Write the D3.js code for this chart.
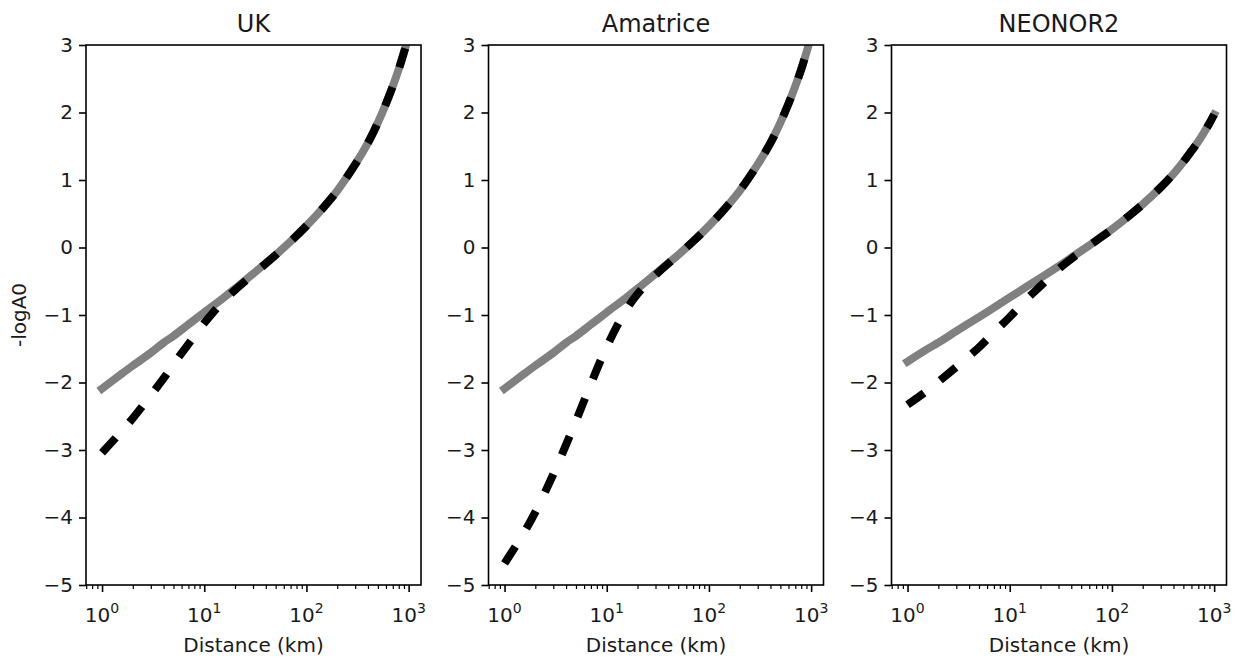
<!DOCTYPE html>
<html>
<head>
<meta charset="utf-8">
<script src="https://cdn.jsdelivr.net/npm/d3@7"></script>
<style>
  body { margin: 0; background: #fff; }
  svg { display: block; font-family: "DejaVu Sans", sans-serif; }
</style>
</head>
<body>
<svg id="chart" width="1238" height="662"></svg>
<script>
// ---- Data ----
const panelTitles = ["UK", "Amatrice", "NEONOR2"];
const distance = [1, 1.5, 2, 3, 4, 5, 7, 10, 15, 20, 30, 50, 70, 100, 150, 200, 300, 400, 500, 600, 700, 800, 900, 1000];

const ukSolid       = [-2.09, -1.89, -1.75, -1.56, -1.41, -1.31, -1.14, -0.96, -0.76, -0.61, -0.39, -0.11, 0.09, 0.32, 0.61, 0.84, 1.23, 1.55, 1.85, 2.13, 2.39, 2.64, 2.89, 3.13];
const ukDashed      = [-3.04, -2.75, -2.53, -2.19, -1.94, -1.73, -1.43, -1.12, -0.81, -0.63, -0.40, -0.11, 0.09, 0.32, 0.61, 0.84, 1.23, 1.55, 1.85, 2.13, 2.39, 2.64, 2.89, 3.13];
const amatriceSolid = [-2.09, -1.89, -1.75, -1.56, -1.41, -1.31, -1.14, -0.96, -0.76, -0.61, -0.39, -0.11, 0.09, 0.32, 0.61, 0.84, 1.23, 1.55, 1.85, 2.13, 2.39, 2.64, 2.89, 3.13];
const amatriceDashed= [-4.68, -4.26, -3.92, -3.36, -2.92, -2.57, -2.02, -1.47, -0.96, -0.69, -0.41, -0.11, 0.09, 0.32, 0.61, 0.84, 1.23, 1.55, 1.85, 2.13, 2.39, 2.64, 2.89, 3.13];
const neonorSolid   = [-1.69, -1.52, -1.41, -1.24, -1.12, -1.03, -0.89, -0.74, -0.57, -0.45, -0.28, -0.05, 0.10, 0.27, 0.48, 0.64, 0.89, 1.09, 1.27, 1.43, 1.57, 1.71, 1.84, 1.97];
const neonorDashed  = [-2.33, -2.14, -1.99, -1.77, -1.61, -1.48, -1.26, -1.03, -0.75, -0.57, -0.32, -0.06, 0.10, 0.27, 0.48, 0.64, 0.89, 1.09, 1.27, 1.43, 1.57, 1.71, 1.84, 1.97];

const solidSeries = [ukSolid, amatriceSolid, neonorSolid];
const dashedSeries = [ukDashed, amatriceDashed, neonorDashed];

const yTicks = [-5, -4, -3, -2, -1, 0, 1, 2, 3];
const xMajorTicks = [1, 10, 100, 1000];
const xMajorExponents = ["0", "1", "2", "3"];
const xLabel = "Distance (km)";
const yLabel = "-logA0";

// ---- Layout ----
const svg = d3.select("#chart");
const plotTop = 45, plotH = 540, plotW = 335;
const lefts = [86, 488.5, 891.5];
const textColor = "#1a1a1a";

const x = d3.scaleLog().domain([Math.pow(10, -0.157), Math.pow(10, 3.121)]).range([0, plotW]);
const y = d3.scaleLinear().domain([-5, 3]).range([plotH, 0]);

// minor ticks
const minorTicks = [];
[0.1, 1, 10, 100, 1000].forEach(dec => {
  for (let k = 2; k <= 9; k++) {
    const v = dec * k;
    if (v >= x.domain()[0] && v <= x.domain()[1]) minorTicks.push(v);
  }
});

const line = d3.line()
  .x(d => x(d[0]))
  .y(d => y(d[1]))
  .curve(d3.curveCatmullRom.alpha(0.5));

lefts.forEach((left, i) => {
  const g = svg.append("g").attr("transform", `translate(${left},${plotTop})`);

  g.append("clipPath").attr("id", "clip" + i)
    .append("rect").attr("x", 0).attr("y", 0).attr("width", plotW).attr("height", plotH);

  const plot = g.append("g").attr("clip-path", `url(#clip${i})`);

  plot.append("path")
    .datum(distance.map((d, j) => [d, solidSeries[i][j]]))
    .attr("d", line)
    .attr("fill", "none")
    .attr("stroke", "#808080")
    .attr("stroke-width", 8)
    .attr("stroke-linecap", "square");

  plot.append("path")
    .datum(distance.map((d, j) => [d, dashedSeries[i][j]]))
    .attr("d", line)
    .attr("fill", "none")
    .attr("stroke", "#000")
    .attr("stroke-width", 8)
    .attr("stroke-dasharray", "20,21")
    .attr("stroke-linecap", "butt");

  // Y axis
  const yAxis = g.append("g")
    .call(d3.axisLeft(y).tickValues(yTicks).tickSize(7).tickPadding(6));
  yAxis.select(".domain").remove();
  yAxis.selectAll(".tick line").attr("stroke", "#000").attr("stroke-width", 1.6);
  yAxis.selectAll(".tick text")
    .attr("font-size", 20).attr("fill", textColor)
    .attr("font-family", "DejaVu Sans, sans-serif");

  // X axis minor
  const xMinor = g.append("g").attr("transform", `translate(0,${plotH})`)
    .call(d3.axisBottom(x).tickValues(minorTicks).tickSize(4).tickFormat(""));
  xMinor.select(".domain").remove();
  xMinor.selectAll(".tick line").attr("stroke", "#000").attr("stroke-width", 1.2);

  // X axis major
  const xMajor = g.append("g").attr("transform", `translate(0,${plotH})`)
    .call(d3.axisBottom(x).tickValues(xMajorTicks).tickSize(7).tickFormat(""));
  xMajor.select(".domain").remove();
  xMajor.selectAll(".tick line").attr("stroke", "#000").attr("stroke-width", 1.6);

  xMajorTicks.forEach((v, k) => {
    const t = g.append("text")
      .attr("x", x(v))
      .attr("y", plotH + 37)
      .attr("text-anchor", "middle")
      .attr("font-size", 20)
      .attr("fill", textColor);
    t.append("tspan").text("10");
    t.append("tspan").attr("font-size", 14).attr("dy", -9).text(xMajorExponents[k]);
  });

  // frame
  g.append("rect")
    .attr("x", 0).attr("y", 0).attr("width", plotW).attr("height", plotH)
    .attr("fill", "none").attr("stroke", "#000").attr("stroke-width", 1.6);

  // title
  g.append("text")
    .attr("x", plotW / 2).attr("y", -13.5)
    .attr("text-anchor", "middle")
    .attr("font-size", 24)
    .attr("fill", textColor)
    .text(panelTitles[i]);

  // x label
  g.append("text")
    .attr("x", plotW / 2).attr("y", plotH + 67)
    .attr("text-anchor", "middle")
    .attr("font-size", 20)
    .attr("fill", textColor)
    .text(xLabel);

  if (i === 0) {
    g.append("text")
      .attr("transform", `translate(${-60},${plotH / 2}) rotate(-90)`)
      .attr("text-anchor", "middle")
      .attr("font-size", 20)
      .attr("fill", textColor)
      .text(yLabel);
  }
});
</script>
</body>
</html>
